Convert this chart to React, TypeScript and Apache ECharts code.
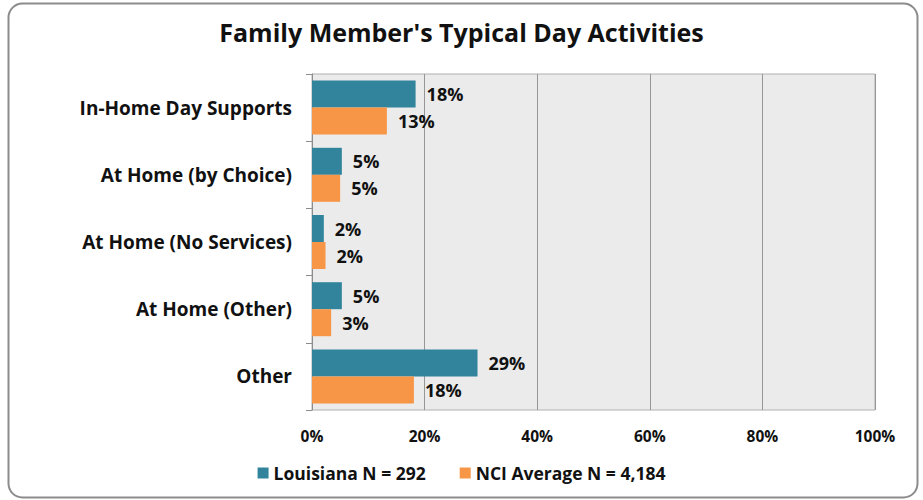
import React, { useEffect, useRef } from "react";
import * as echarts from "echarts";

const categories = [
  "In-Home Day Supports",
  "At Home (by Choice)",
  "At Home (No Services)",
  "At Home (Other)",
  "Other",
];
const louisiana = [18.4, 5.3, 2.1, 5.3, 29.4];
const nciAverage = [13.3, 5.0, 2.4, 3.4, 18.1];
const seriesNames = ["Louisiana N = 292", "NCI Average N = 4,184"];
const title = "Family Member's Typical Day Activities";

const FONT = "'Open Sans', 'Liberation Sans', sans-serif";

export default function App() {
  const ref = useRef<HTMLDivElement>(null);
  useEffect(() => {
    document.body.style.margin = "0";
    const chart = echarts.init(ref.current!, undefined, { renderer: "svg" });
    const label = {
      show: true,
      position: "right",
      distance: 11,
      fontFamily: FONT,
      fontWeight: "bold",
      fontSize: 18,
      color: "#111",
      formatter: (p: any) => Math.round(p.value) + "%",
    };
    chart.setOption({
      animation: false,
      backgroundColor: "#fff",
      title: {
        text: title,
        left: "center",
        top: 14,
        textStyle: { fontFamily: FONT, fontWeight: "bold", fontSize: 25, color: "#111" },
      },
      graphic: [
        {
          type: "rect",
          shape: { x: 8.5, y: 3.5, width: 909, height: 494, r: 14 },
          style: { fill: "none", stroke: "#8c8c8c", lineWidth: 2 },
          z: -1,
        },
      ],
      legend: {
        bottom: 13,
        left: "center",
        itemWidth: 11,
        itemHeight: 11,
        itemGap: 34,
        icon: "rect",
        textStyle: { fontFamily: FONT, fontWeight: "bold", fontSize: 17.5, color: "#111" },
        data: seriesNames,
      },
      grid: {
        left: 312,
        right: 48,
        top: 74,
        bottom: 90,
        show: true,
        backgroundColor: "#ebebeb",
        borderColor: "#b0b0b0",
        borderWidth: 1,
      },
      xAxis: {
        type: "value",
        min: 0,
        max: 100,
        interval: 20,
        axisLabel: {
          formatter: "{value}%",
          fontFamily: FONT,
          fontWeight: "bold",
          fontSize: 15.5,
          color: "#111",
          margin: 18,
        },
        axisLine: { show: false },
        axisTick: { show: false },
        splitLine: { show: true, lineStyle: { color: "#969696", width: 1 } },
      },
      yAxis: {
        type: "category",
        inverse: true,
        data: categories,
        axisLine: { show: true, lineStyle: { color: "#8c8c8c" } },
        axisTick: { show: true, length: 6, lineStyle: { color: "#8c8c8c" } },
        axisLabel: {
          fontFamily: FONT,
          fontWeight: "bold",
          fontSize: 19,
          color: "#111",
          margin: 20,
        },
      },
      series: [
        {
          name: seriesNames[0],
          type: "bar",
          data: louisiana,
          itemStyle: { color: "#31849b" },
          barWidth: 27,
          barGap: "0%",
          label,
        },
        {
          name: seriesNames[1],
          type: "bar",
          data: nciAverage,
          itemStyle: { color: "#f79646" },
          barWidth: 27,
          barGap: "0%",
          label,
        },
      ],
    });
    return () => chart.dispose();
  }, []);
  return <div ref={ref} style={{ width: 923, height: 500 }} />;
}
